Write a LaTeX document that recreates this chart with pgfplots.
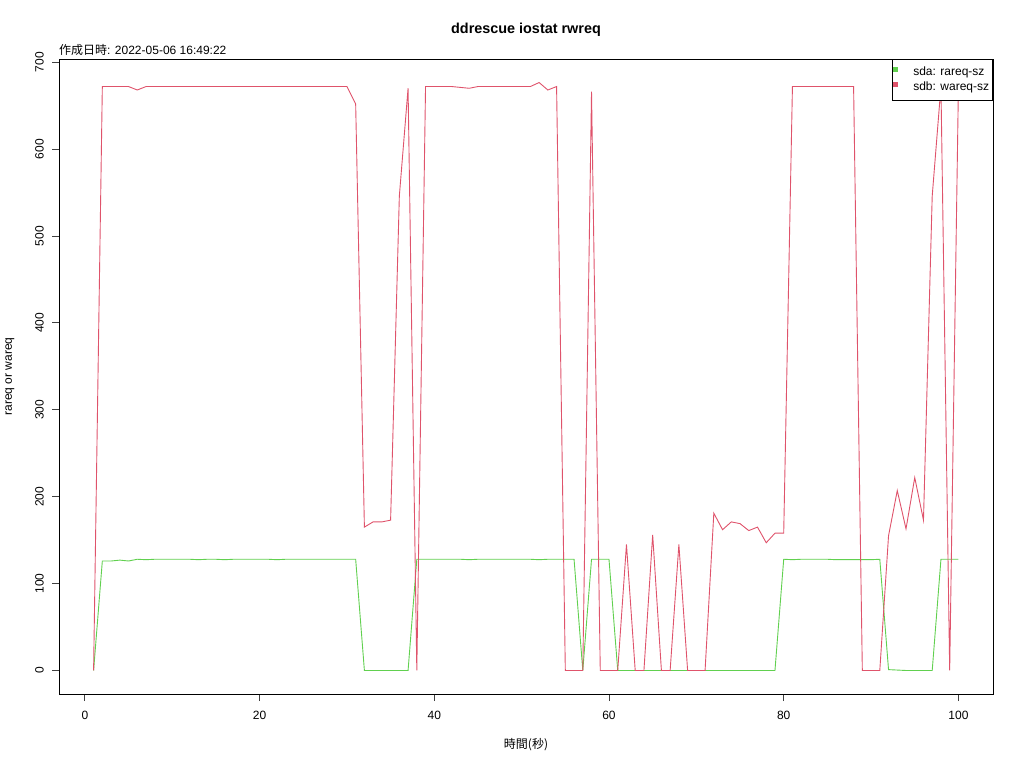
\documentclass[border=0pt]{standalone}
\usepackage{fontspec}
\setmainfont{Liberation Sans}
\newfontfamily\jp{Noto Sans CJK JP}
\usepackage{pgfplots}
\pgfplotsset{compat=1.18}
\definecolor{sdagreen}{HTML}{61D04F}
\definecolor{sdbred}{HTML}{DF536B}
\begin{document}
\begin{tikzpicture}[x=1pt,y=1pt]
\path[use as bounding box] (0,0) rectangle (1024,768);
\begin{axis}[
  at={(59pt,74pt)}, anchor=south west, scale only axis,
  width=934pt, height=635pt,
  xmin=-2.96, xmax=103.96, ymin=-27.06, ymax=703.7,
  xtick={0,20,...,100}, ytick={0,100,...,700},
  tick align=outside, major tick length=7pt,
  xtick pos=bottom, ytick pos=left,
  axis line style={line width=0.8pt},
  tick style={black!75, line width=0.8pt},
  tick label style={font=\fontsize{12}{14}\selectfont, inner sep=0pt},
  yticklabel style={xshift=-8pt, rotate=90, anchor=south},
  xticklabel style={yshift=-10pt, anchor=north},
  /pgf/number format/assume math mode=true,
  legend style={at={(1,1)}, anchor=north east, draw=black, fill=white,
    font=\fontsize{12}{14}\selectfont, line width=0.8pt,
    inner xsep=0pt, inner ysep=7pt, row sep=3pt, column sep=0pt,
    nodes={inner xsep=3.5pt, inner ysep=0pt, text height=9pt, text depth=3pt}},
  legend cell align=left,
  legend image code/.code={\path[draw=none,fill=none] (-6pt,0pt) rectangle (11pt,4pt);\fill[#1] (-5pt,1.2pt) rectangle (-1pt,5.2pt);},
]
\addplot[color=sdagreen, line width=0.9pt] coordinates {
(1,0) (2,126) (3,126) (4,127) (5,126) (6,128) (7,127.5) (8,128) (9,128) (10,128)
(11,128) (12,128) (13,127.5) (14,128) (15,128) (16,127.5) (17,128) (18,128) (19,128) (20,128)
(21,128) (22,127.5) (23,128) (24,128) (25,128) (26,128) (27,128) (28,128) (29,128) (30,128)
(31,128) (32,0) (33,0) (34,0) (35,0) (36,0) (37,0) (38,128) (39,128) (40,128)
(41,128) (42,128) (43,128) (44,127.5) (45,128) (46,128) (47,128) (48,128) (49,128) (50,128)
(51,128) (52,127.5) (53,128) (54,128) (55,128) (56,128) (57,0) (58,128) (59,128) (60,128)
(61,0) (62,0) (63,0) (64,0) (65,0) (66,0) (67,0) (68,0) (69,0) (70,0)
(71,0) (72,0) (73,0) (74,0) (75,0) (76,0) (77,0) (78,0) (79,0) (80,128)
(81,127.5) (82,128) (83,128) (84,128) (85,128) (86,127.5) (87,127.5) (88,127.5) (89,127.5) (90,127.5)
(91,128) (92,1) (93,0.5) (94,0) (95,0) (96,0) (97,0) (98,128) (99,128) (100,128)
};
\addlegendentry{sda: rareq-sz}
\addplot[color=sdbred, line width=0.9pt] coordinates {
(1,0) (2,672) (3,672) (4,672) (5,672) (6,668) (7,672) (8,672) (9,672) (10,672)
(11,672) (12,672) (13,672) (14,672) (15,672) (16,672) (17,672) (18,672) (19,672) (20,672)
(21,672) (22,672) (23,672) (24,672) (25,672) (26,672) (27,672) (28,672) (29,672) (30,672)
(31,652) (32,165) (33,171) (34,171) (35,173) (36,546) (37,670) (38,0) (39,672) (40,672)
(41,672) (42,672) (43,671) (44,670) (45,672) (46,672) (47,672) (48,672) (49,672) (50,672)
(51,672) (52,676.6) (53,668) (54,672) (55,0) (56,0) (57,0) (58,666) (59,0) (60,0)
(61,0) (62,145) (63,0) (64,0) (65,156) (66,0) (67,0) (68,145) (69,0) (70,0)
(71,0) (72,181) (73,162) (74,171) (75,169) (76,161) (77,165) (78,147) (79,158) (80,158)
(81,672) (82,672) (83,672) (84,672) (85,672) (86,672) (87,672) (88,672) (89,0) (90,0)
(91,0) (92,155) (93,207) (94,163) (95,222) (96,173) (97,546) (98,672) (99,0) (100,672)
};
\addlegendentry{sdb: wareq-sz}
\end{axis}
\node[font=\bfseries\fontsize{14.4}{16}\selectfont] at (526,738) {ddrescue iostat rwreq};
\node[anchor=base west, inner sep=0pt, font=\fontsize{12}{14}\selectfont] at (59,713) {{\jp 作成日時}: 2022-05-06 16:49:22};
\node[rotate=90, font=\fontsize{12}{14}\selectfont] at (10,391.5) {rareq or wareq};
\node[font=\fontsize{12}{14}\selectfont] at (526,23) {{\jp 時間(秒)}};
\end{tikzpicture}
\end{document}
